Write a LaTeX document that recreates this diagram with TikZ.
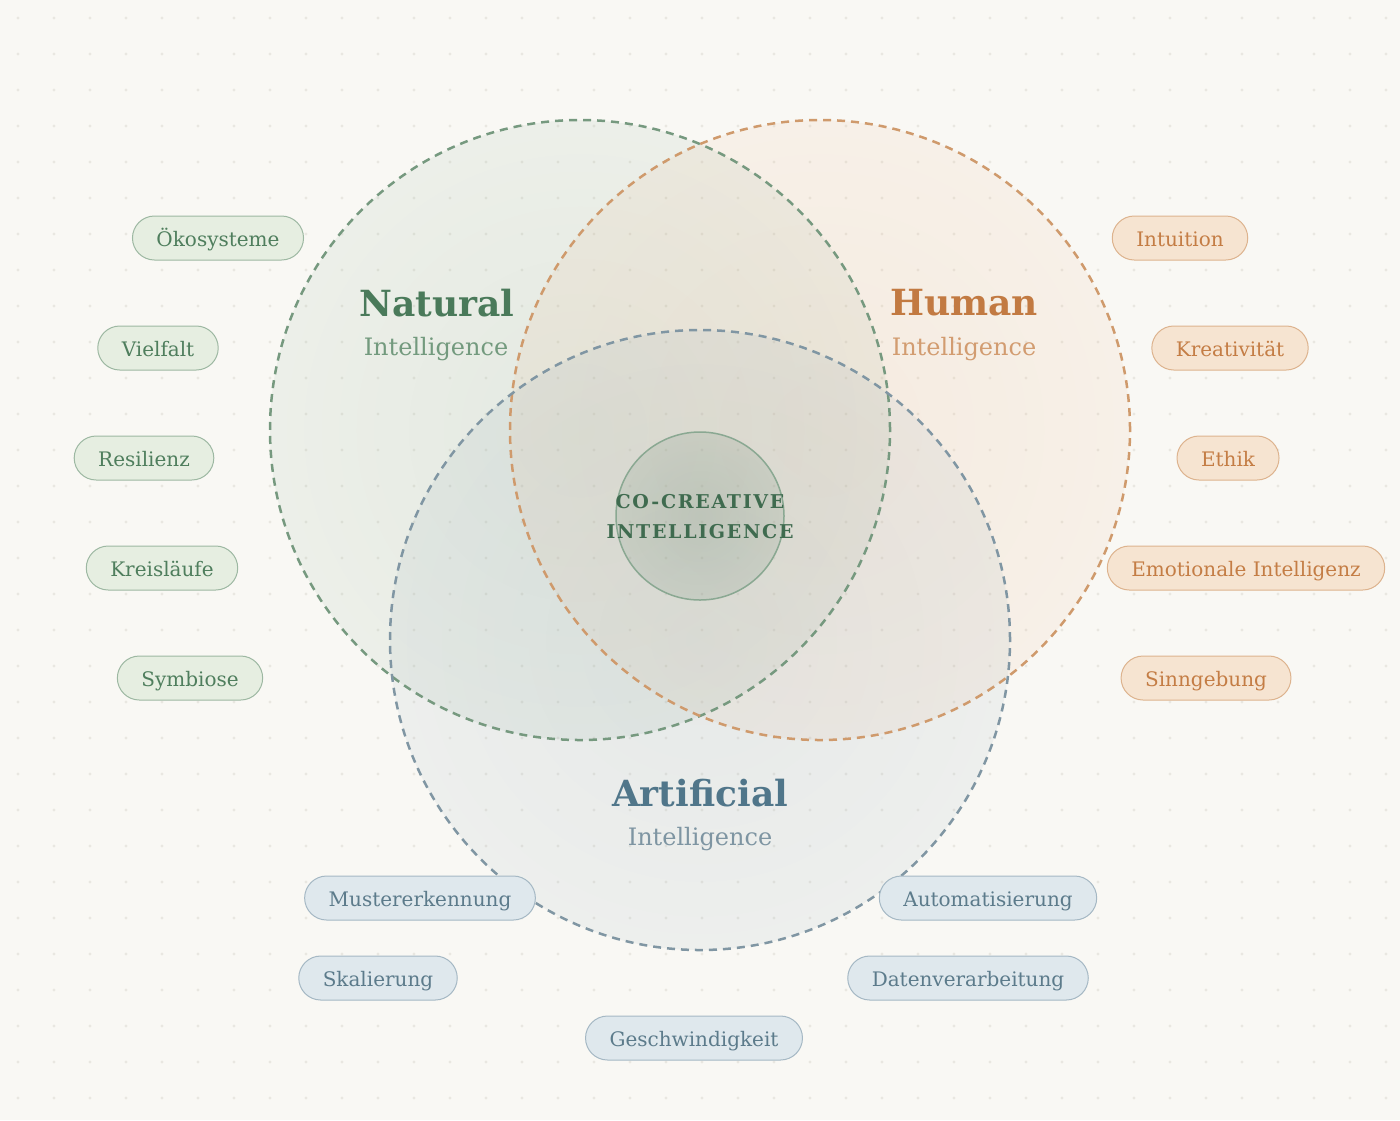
\documentclass[tikz,border=0pt]{standalone}
\usepackage{fontspec}
\setmainfont{DejaVu Serif}
\usetikzlibrary{fadings}
\definecolor{bgc}{HTML}{F9F8F4}
\definecolor{dotc}{HTML}{E9E7E1}
\definecolor{natline}{HTML}{76997F}
\definecolor{humline}{HTML}{CF9A6C}
\definecolor{artline}{HTML}{8096A3}
\definecolor{natfill}{HTML}{7FA589}
\definecolor{humfill}{HTML}{E8AE80}
\definecolor{artfill}{HTML}{8AA2B2}
\definecolor{cenfill}{HTML}{6F8C78}
\definecolor{natT}{HTML}{4A7A5A}
\definecolor{natS}{HTML}{739A7E}
\definecolor{humT}{HTML}{C27A42}
\definecolor{humS}{HTML}{D29C70}
\definecolor{artT}{HTML}{50768A}
\definecolor{artS}{HTML}{7E95A2}
\definecolor{cenT}{HTML}{3F6B4F}
\definecolor{gpf}{HTML}{E6EEE1}\definecolor{gpd}{HTML}{9DB8A2}\definecolor{gpt}{HTML}{4F7E5D}
\definecolor{opf}{HTML}{F6E4D1}\definecolor{opd}{HTML}{DDB38E}\definecolor{opt}{HTML}{C47D45}
\definecolor{bpf}{HTML}{DFE8ED}\definecolor{bpd}{HTML}{A5B8C4}\definecolor{bpt}{HTML}{5C7B8B}
\pgfdeclareradialshading{vennfadeshade}{\pgfpoint{0bp}{0bp}}{color(0bp)=(pgftransparent!83); color(25bp)=(pgftransparent!90); color(50bp)=(pgftransparent!99)}
\pgfdeclarefading{vennfade}{\pgfuseshading{vennfadeshade}}
\pgfdeclareradialshading{cenfadeshade}{\pgfpoint{0bp}{0bp}}{color(0bp)=(pgftransparent!74); color(50bp)=(pgftransparent!94)}
\pgfdeclarefading{cenfade}{\pgfuseshading{cenfadeshade}}
\tikzset{
  venn/.style={line width=1.25pt, dash pattern=on 4pt off 3pt},
  pill/.style={rounded corners=11pt, minimum height=22pt, inner xsep=12pt, line width=0.5pt, font=\fontsize{10}{11}\selectfont, text height=9.3pt, text depth=0.5pt},
  gpill/.style={pill, draw=gpd, fill=gpf, text=gpt},
  opill/.style={pill, draw=opd, fill=opf, text=opt},
  bpill/.style={pill, draw=bpd, fill=bpf, text=bpt},
  ttl/.style={font=\fontsize{18}{20}\selectfont\bfseries},
  sub/.style={font=\fontsize{12}{14}\selectfont},
}
\begin{document}
\begin{tikzpicture}[x=0.5pt,y=-0.5pt]
\fill[bgc] (0,0) rectangle (1400,1120);
\useasboundingbox (0,0) rectangle (1400,1120);
\foreach \i in {0,...,38} \foreach \j in {0,...,30} \fill[dotc] (18+36*\i,18+36*\j) circle[radius=0.8pt];
% circle fills
\fill[natfill, path fading=vennfade] (580,430) circle[radius=155pt];
\fill[humfill, path fading=vennfade] (820,430) circle[radius=155pt];
\fill[artfill, path fading=vennfade] (700,640) circle[radius=155pt];
% circle outlines
\draw[venn, natline] (580,430) circle[radius=155pt];
\draw[venn, humline] (820,430) circle[radius=155pt];
\draw[venn, artline] (700,640) circle[radius=155pt];
% center
\fill[cenfill, path fading=cenfade] (700,516) circle[radius=42pt];
\draw[natline!85, line width=0.75pt] (700,516) circle[radius=42pt];
\node[font=\fontsize{9.5}{15}\selectfont\bfseries\addfontfeature{LetterSpace=9}, text=cenT, align=center] (cen) at (700,517) {CO-CREATIVE\\INTELLIGENCE};
% titles
\node[ttl, text=natT] (natt) at (437,303) {Natural};
\node[sub, text=natS] (nats) at (436,349) {Intelligence};
\node[ttl, text=humT] (humt) at (964,303) {Human};
\node[sub, text=humS] (hums) at (964,349) {Intelligence};
\node[ttl, text=artT] (artt) at (700,793) {Artificial};
\node[sub, text=artS] (arts) at (700,839) {Intelligence};
% green pills
\node[gpill] (g1) at (218,238) {Ökosysteme};
\node[gpill] (g2) at (158,348) {Vielfalt};
\node[gpill] (g3) at (144,458) {Resilienz};
\node[gpill] (g4) at (162,568) {Kreisläufe};
\node[gpill] (g5) at (190,678) {Symbiose};
% orange pills
\node[opill] (o1) at (1180,238) {Intuition};
\node[opill] (o2) at (1230,348) {Kreativität};
\node[opill] (o3) at (1228,458) {Ethik};
\node[opill] (o4) at (1246,568) {Emotionale Intelligenz};
\node[opill] (o5) at (1206,678) {Sinngebung};
% blue pills
\node[bpill] (b1) at (420,898) {Mustererkennung};
\node[bpill] (b2) at (378,978) {Skalierung};
\node[bpill] (b3) at (694,1038) {Geschwindigkeit};
\node[bpill] (b4) at (988,898) {Automatisierung};
\node[bpill] (b5) at (968,978) {Datenverarbeitung};
\end{tikzpicture}
\end{document}
